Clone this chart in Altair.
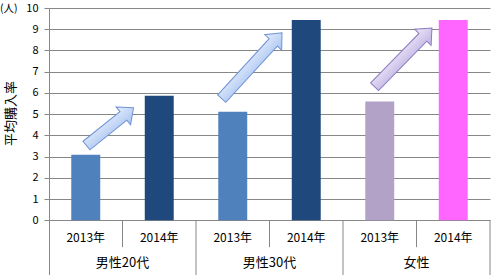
import math
import altair as alt
import pandas as pd

# ---- data ----
groups = ["男性20代", "男性20代", "男性30代", "男性30代", "女性", "女性"]
years = ["2013年", "2014年", "2013年", "2014年", "2013年", "2014年"]
values = [3.08, 5.87, 5.11, 9.43, 5.6, 9.43]
color_keys = ["男性2013", "男性2014", "男性2013", "男性2014", "女性2013", "女性2014"]

group_names = ["男性20代", "男性30代", "女性"]
group_centers = [0.5, 2.5, 4.5]
y_ticks = [0, 1, 2, 3, 4, 5, 6, 7, 8, 9, 10]

# arrows (tail / tip in data units: x = category index, y = value)
arrow_tail_x = [0.01, 1.85, 3.93]
arrow_tail_y = [3.52, 5.73, 6.29]
arrow_tip_x = [0.65, 2.67, 4.71]
arrow_tip_y = [5.30, 8.83, 9.06]
arrow_kind = ["blue", "blue", "purple"]

# ---- layout constants ----
W, H = 441, 267
YMIN, YMAX = -2.58, 10
PX_X = W / 6.0
PX_Y = H / (YMAX - YMIN)
FONT = "Noto Sans CJK JP"
GRID = "#878787"

bars = pd.DataFrame({
    "idx": list(range(6)), "group": groups, "year": years,
    "value": values, "ck": color_keys,
})

xs = alt.Scale(domain=[-0.5, 5.5], nice=False, zero=False)
ys = alt.Scale(domain=[YMIN, YMAX], nice=False, zero=False)

Y_AXIS = alt.Axis(
    values=y_ticks, grid=True, gridColor=GRID, domainColor=GRID,
    tickColor=GRID, tickSize=5, labelFont=FONT, labelFontSize=11,
    labelColor="black", labelPadding=6, labelOverlap=False,
    title="平均購入率",
    titleFont=FONT, titleFontSize=13, titleFontWeight="normal",
    titleColor="black", titleX=-39, titleY=105, titleBaseline="middle",
    titleAngle=270)


def X(field):
    return alt.X(field, scale=xs, axis=None)


def Y(field):
    return alt.Y(field, scale=ys, axis=Y_AXIS)


base = alt.Chart(bars)

bar_layer = base.transform_calculate(
    x0="datum.idx - 0.197", x1="datum.idx + 0.197", zero="0"
).mark_bar().encode(
    x=X("x0:Q"), x2="x1:Q",
    y=Y("value:Q"), y2="zero:Q",
    color=alt.Color("ck:N", legend=None, scale=alt.Scale(
        domain=["男性2013", "男性2014", "女性2013", "女性2014"],
        range=["#4F81BD", "#1F497D", "#B3A2C7", "#FF66FF"])),
)

year_layer = base.transform_calculate(ly="-0.845").mark_text(
    font=FONT, fontSize=12, color="black").encode(
    x=X("idx:Q"), y=Y("ly:Q"), text="year:N")

grp_df = pd.DataFrame({"gx": group_centers, "name": group_names})
group_layer = alt.Chart(grp_df).transform_calculate(ly="-2.02").mark_text(
    font=FONT, fontSize=13, color="black").encode(
    x=X("gx:Q"), y=Y("ly:Q"), text="name:N")

sep_df = pd.DataFrame({
    "sx": [0.5, 2.5, 4.5, 1.5, 3.5, 5.5],
    "sy2": [-1.27, -1.27, -1.27, YMIN, YMIN, YMIN],
})
sep_layer = alt.Chart(sep_df).transform_calculate(sy="0").mark_rule(
    color=GRID, strokeWidth=1).encode(
    x=X("sx:Q"), y=Y("sy:Q"), y2="sy2:Q")

unit_layer = alt.Chart(pd.DataFrame({"t": ["(人)"], "uy": [10]})).mark_text(
    font=FONT, fontSize=10.5, color="black", align="left", dy=1).encode(
    x=alt.value(-49), y=Y("uy:Q"), text="t:N")

# arrow geometry
rows = []
for tx, ty, hx, hy, k in zip(arrow_tail_x, arrow_tail_y, arrow_tip_x, arrow_tip_y, arrow_kind):
    dx = (hx - tx) * PX_X
    dy = -(hy - ty) * PX_Y
    L = math.hypot(dx, dy)
    ang = math.degrees(math.atan2(dy, dx)) % 360
    s = 2.0 / L
    hw, HW, HL = 5.5 * s, 11.5 * s, 13 * s
    p = (f"M-1,{-hw:.4f}L{1-HL:.4f},{-hw:.4f}L{1-HL:.4f},{-HW:.4f}L1,0"
         f"L{1-HL:.4f},{HW:.4f}L{1-HL:.4f},{hw:.4f}L-1,{hw:.4f}Z")
    rows.append({"cx": (tx + hx) / 2, "cy": (ty + hy) / 2, "ang": ang,
                 "sz": L * L, "path": p, "kind": k})

COLORS = {"blue": ("#e6eefc", "#a7c3f1", "#6f93d3"),
          "purple": ("#eee9f8", "#bdb0e2", "#8b7bbf")}

arrow_layers = []
for r in rows:
    c1, c2, stroke = COLORS[r["kind"]]
    arrow_layers.append(
        alt.Chart(pd.DataFrame({"cx": [r["cx"]], "cy": [r["cy"]]})).mark_point(
            shape=r["path"], size=r["sz"], angle=r["ang"],
            filled=True, opacity=1, stroke=stroke, strokeWidth=1, strokeOpacity=1,
            fill=alt.Gradient(gradient="linear", x1=0, y1=0, x2=0, y2=1,
                              stops=[alt.GradientStop(color=c1, offset=0),
                                     alt.GradientStop(color=c2, offset=1)]),
        ).encode(x=X("cx:Q"), y=Y("cy:Q"))
    )

chart = alt.layer(
    bar_layer, sep_layer, year_layer, group_layer, unit_layer, *arrow_layers
).properties(
    width=W, height=H,
    autosize=alt.AutoSizeParams(type="none"),
    padding={"left": 49, "top": 8, "right": 3, "bottom": 0},
    background="white",
).configure_view(stroke=None)

chart.save("out.html", embed_options={"renderer": "svg", "actions": False})
